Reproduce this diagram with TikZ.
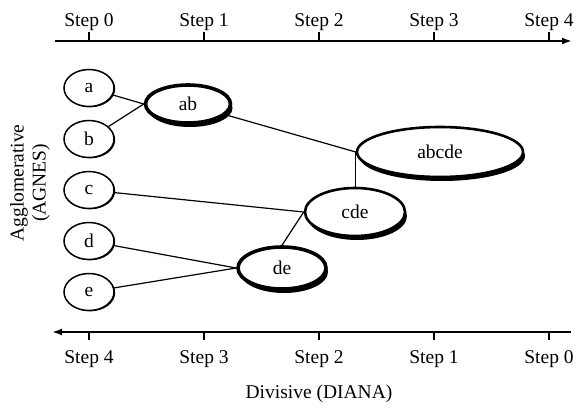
\documentclass[tikz,border=0pt]{standalone}
\usepackage{fontspec}
\setmainfont{Liberation Serif}
\usetikzlibrary{arrows.meta, shapes.geometric, shadows}

\begin{document}
\begin{tikzpicture}[
    x=1pt, y=-1pt,
    every node/.style={font=\fontsize{19.5}{22}\selectfont},
    axis/.style={line width=1.8pt, -{Latex[length=10pt, width=7pt]}},
    steptick/.style={line width=1.8pt},
    link/.style={line width=1.2pt},
    cluster/.style={ellipse, draw, fill=white, inner sep=0pt},
    leaf/.style={cluster, line width=1.5pt,
                 minimum width=50pt, minimum height=37pt,
                 drop shadow={shadow xshift=1.2pt, shadow yshift=-0.8pt,
                              fill=black, opacity=1}},
    merged/.style={cluster, line width=2.6pt,
                   drop shadow={shadow xshift=2pt, shadow yshift=-4pt,
                                fill=black, opacity=1}},
]
\useasboundingbox (0,0) rectangle (581,407);

% ── Top axis: agglomerative steps ─────────────────────────────────────
\draw[axis] (55,41) -- (572,41);
\foreach \i/\x in {0/89, 1/204, 2/319, 3/434, 4/549} {
  \draw[steptick] (\x,41) -- (\x,32);
  \node[anchor=base] (top\i) at (\x,26) {Step \i};
}

% ── Bottom axis: divisive steps ───────────────────────────────────────
\draw[axis] (571,332) -- (52,332);
\foreach \i/\x in {4/89, 3/204, 2/319, 1/434, 0/549} {
  \draw[steptick] (\x,332) -- (\x,340);
  \node[anchor=base] (bot\i) at (\x,363) {Step \i};
}
\node[anchor=base] (diana) at (319,398) {Divisive (DIANA)};

% ── Side label ────────────────────────────────────────────────────────
\node[rotate=90, align=center, inner sep=0pt] (agnes) at (30,183)
      {Agglomerative\\(AGNES)};

% ── Leaves ────────────────────────────────────────────────────────────
\node[leaf] (a) at (89,88)  {a};
\node[leaf] (b) at (89,139) {b};
\node[leaf] (c) at (89,190) {c};
\node[leaf] (d) at (89,241) {d};
\node[leaf] (e) at (89,292) {e};

% ── Merged clusters ───────────────────────────────────────────────────
\node[merged, line width=3.6pt, minimum width=85pt, minimum height=38pt,
      drop shadow={shadow xshift=1pt, shadow yshift=-2pt, fill=black, opacity=1}]
      (ab) at (188,104) {ab};
\node[merged, minimum width=166pt, minimum height=50pt]
      (abcde) at (440,152) {abcde};
\node[merged, minimum width=100pt, minimum height=48pt]
      (cde) at (355,212) {cde};
\node[merged, line width=3.6pt, minimum width=88pt, minimum height=42pt,
      drop shadow={shadow xshift=1.5pt, shadow yshift=-3pt, fill=black, opacity=1}]
      (de) at (282,268) {de};

% ── Links ─────────────────────────────────────────────────────────────
\draw[link] (ab.west) -- (a);
\draw[link] (ab.west) -- (b);
\draw[link] (abcde.west) -- (ab);
\draw[link] (abcde.west) -- (abcde.west |- cde.north);
\draw[link] (cde.west) -- (c);
\draw[link] (cde.west) -- (de.north);
\draw[link] (de.west) -- (d);
\draw[link] (de.west) -- (e);

\end{tikzpicture}
\end{document}
